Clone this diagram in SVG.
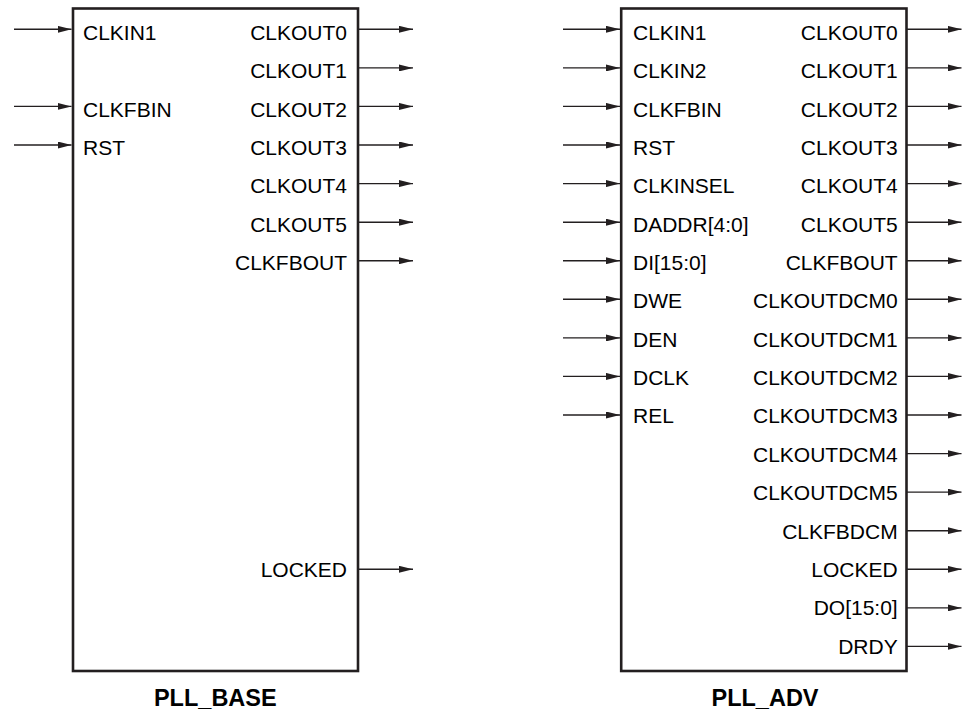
<svg xmlns="http://www.w3.org/2000/svg" width="964" height="711" viewBox="0 0 964 711">
<style>
.box{fill:#fff;stroke:#231f20;stroke-width:2.6}
.w{stroke:#231f20;stroke-width:1.4;fill:none;marker-end:url(#ah)}
.l{font-family:"Liberation Sans",Arial,sans-serif;font-size:21px;fill:#000}
.r{font-family:"Liberation Sans",Arial,sans-serif;font-size:21px;fill:#000;text-anchor:end}
.t{font-family:"Liberation Sans",Arial,sans-serif;font-size:23.5px;font-weight:bold;fill:#000;text-anchor:middle}
</style>
<defs>
<marker id="ah" viewBox="0 0 14 7" refX="14" refY="3.5" markerWidth="14" markerHeight="7" markerUnits="userSpaceOnUse" orient="auto">
<path d="M0,0 L14,3.5 L0,7 z" fill="#231f20"/>
</marker>
</defs>
<g id="pll_base">
<rect class="box" x="73" y="8.5" width="285" height="662.5"/>
<text class="l" x="83" y="39.8">CLKIN1</text>
<text class="l" x="83" y="116.5">CLKFBIN</text>
<text class="l" x="83" y="154.9">RST</text>
<text class="r" x="347" y="39.8">CLKOUT0</text>
<text class="r" x="347" y="78.2">CLKOUT1</text>
<text class="r" x="347" y="116.5">CLKOUT2</text>
<text class="r" x="347" y="154.9">CLKOUT3</text>
<text class="r" x="347" y="193.3">CLKOUT4</text>
<text class="r" x="347" y="231.65">CLKOUT5</text>
<text class="r" x="347" y="269.9">CLKFBOUT</text>
<text class="r" x="347" y="576.9">LOCKED</text>
<text class="t" x="215.3" y="706">PLL_BASE</text>
</g>
<g id="pll_adv">
<rect class="box" x="621.2" y="8.5" width="285.3" height="662.5"/>
<text class="l" x="633" y="39.8">CLKIN1</text>
<text class="l" x="633" y="78.2">CLKIN2</text>
<text class="l" x="633" y="116.5">CLKFBIN</text>
<text class="l" x="633" y="154.9">RST</text>
<text class="l" x="633" y="193.3">CLKINSEL</text>
<text class="l" x="633" y="231.65">DADDR[4:0]</text>
<text class="l" x="633" y="269.9">DI[15:0]</text>
<text class="l" x="633" y="308.3">DWE</text>
<text class="l" x="633" y="346.7">DEN</text>
<text class="l" x="633" y="385">DCLK</text>
<text class="l" x="633" y="423.4">REL</text>
<text class="r" x="897.7" y="39.8">CLKOUT0</text>
<text class="r" x="897.7" y="78.2">CLKOUT1</text>
<text class="r" x="897.7" y="116.5">CLKOUT2</text>
<text class="r" x="897.7" y="154.9">CLKOUT3</text>
<text class="r" x="897.7" y="193.3">CLKOUT4</text>
<text class="r" x="897.7" y="231.65">CLKOUT5</text>
<text class="r" x="897.7" y="269.9">CLKFBOUT</text>
<text class="r" x="897.7" y="308.3">CLKOUTDCM0</text>
<text class="r" x="897.7" y="346.7">CLKOUTDCM1</text>
<text class="r" x="897.7" y="385">CLKOUTDCM2</text>
<text class="r" x="897.7" y="423.4">CLKOUTDCM3</text>
<text class="r" x="897.7" y="461.8">CLKOUTDCM4</text>
<text class="r" x="897.7" y="500.1">CLKOUTDCM5</text>
<text class="r" x="897.7" y="538.5">CLKFBDCM</text>
<text class="r" x="897.7" y="576.9">LOCKED</text>
<text class="r" x="897.7" y="615.3">DO[15:0]</text>
<text class="r" x="897.7" y="653.5">DRDY</text>
<text class="t" x="765" y="705.7">PLL_ADV</text>
</g>
<g id="connectors">
<line class="w" x1="14" y1="29.3" x2="71.5" y2="29.3"/>
<line class="w" x1="14" y1="106.4" x2="71.5" y2="106.4"/>
<line class="w" x1="14" y1="145" x2="71.5" y2="145"/>
<line class="w" x1="358" y1="29.3" x2="413" y2="29.3"/>
<line class="w" x1="358" y1="67.9" x2="413" y2="67.9"/>
<line class="w" x1="358" y1="106.4" x2="413" y2="106.4"/>
<line class="w" x1="358" y1="145" x2="413" y2="145"/>
<line class="w" x1="358" y1="183.6" x2="413" y2="183.6"/>
<line class="w" x1="358" y1="222.2" x2="413" y2="222.2"/>
<line class="w" x1="358" y1="260.7" x2="413" y2="260.7"/>
<line class="w" x1="358" y1="569.3" x2="413" y2="569.3"/>
<line class="w" x1="563" y1="29.3" x2="620" y2="29.3"/>
<line class="w" x1="563" y1="67.9" x2="620" y2="67.9"/>
<line class="w" x1="563" y1="106.4" x2="620" y2="106.4"/>
<line class="w" x1="563" y1="145" x2="620" y2="145"/>
<line class="w" x1="563" y1="183.6" x2="620" y2="183.6"/>
<line class="w" x1="563" y1="222.2" x2="620" y2="222.2"/>
<line class="w" x1="563" y1="260.7" x2="620" y2="260.7"/>
<line class="w" x1="563" y1="299.3" x2="620" y2="299.3"/>
<line class="w" x1="563" y1="337.9" x2="620" y2="337.9"/>
<line class="w" x1="563" y1="376.4" x2="620" y2="376.4"/>
<line class="w" x1="563" y1="415" x2="620" y2="415"/>
<line class="w" x1="906.5" y1="29.3" x2="961.5" y2="29.3"/>
<line class="w" x1="906.5" y1="67.9" x2="961.5" y2="67.9"/>
<line class="w" x1="906.5" y1="106.4" x2="961.5" y2="106.4"/>
<line class="w" x1="906.5" y1="145" x2="961.5" y2="145"/>
<line class="w" x1="906.5" y1="183.6" x2="961.5" y2="183.6"/>
<line class="w" x1="906.5" y1="222.2" x2="961.5" y2="222.2"/>
<line class="w" x1="906.5" y1="260.7" x2="961.5" y2="260.7"/>
<line class="w" x1="906.5" y1="299.3" x2="961.5" y2="299.3"/>
<line class="w" x1="906.5" y1="337.9" x2="961.5" y2="337.9"/>
<line class="w" x1="906.5" y1="376.4" x2="961.5" y2="376.4"/>
<line class="w" x1="906.5" y1="415" x2="961.5" y2="415"/>
<line class="w" x1="906.5" y1="453.6" x2="961.5" y2="453.6"/>
<line class="w" x1="906.5" y1="492.1" x2="961.5" y2="492.1"/>
<line class="w" x1="906.5" y1="530.7" x2="961.5" y2="530.7"/>
<line class="w" x1="906.5" y1="569.3" x2="961.5" y2="569.3"/>
<line class="w" x1="906.5" y1="607.9" x2="961.5" y2="607.9"/>
<line class="w" x1="906.5" y1="646.4" x2="961.5" y2="646.4"/>
</g>
</svg>
